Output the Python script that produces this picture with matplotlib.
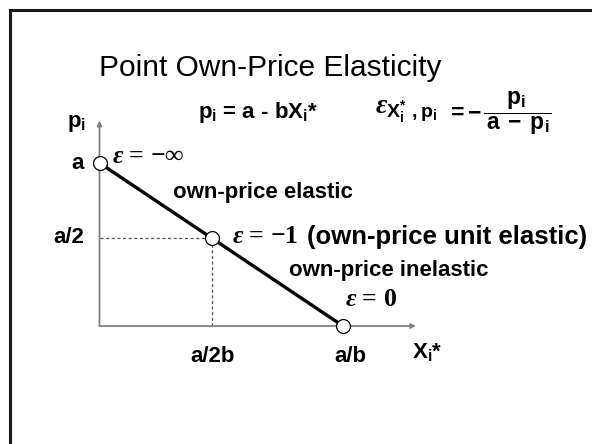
import matplotlib
matplotlib.use('Agg')
import matplotlib.pyplot as plt
from matplotlib.lines import Line2D

plt.rcParams['font.family'] = ['Liberation Sans', 'DejaVu Sans']
plt.rcParams['mathtext.fontset'] = 'custom'
plt.rcParams['mathtext.rm'] = 'Liberation Sans:bold'
plt.rcParams['mathtext.bf'] = 'Liberation Sans:bold'
plt.rcParams['mathtext.sf'] = 'Liberation Sans:bold'
plt.rcParams['mathtext.it'] = 'Liberation Serif:italic:bold'

# linear demand p = a - bX, in units of a (price) and a/b (quantity)
demand_x = [0.0, 0.46, 1.0]
demand_p = [1.0, 0.54, 0.0]
x_ticks = [0.46, 1.0]
x_labels = ['a/2b', 'a/b']
y_ticks = [1.0, 0.54]
y_labels = ['a', 'a/2']
eps_labels = [r'$\varepsilon$ = −∞', r'$\varepsilon$ = −1', r'$\varepsilon$ = 0']

W, H = 592, 444
fig = plt.figure(figsize=(W / 100, H / 100), dpi=100)


def fx(x):
    return x / W


def fy(y):
    return 1 - y / H


# slide frame
fig.add_artist(Line2D([fx(10), fx(10)], [fy(10), 0], color='#1a1a1a', lw=2.2))
fig.add_artist(Line2D([fx(10), 1], [fy(10), fy(10)], color='#1a1a1a', lw=2.2))

# plot area: x=0 at 99.5px, x=1 at 343px; p=0 at 326px, p=1 at 163px
ax = fig.add_axes([fx(99.5), fy(326), (343 - 99.5) / W, (326 - 163) / H])
ax.set_xlim(0, 1)
ax.set_ylim(0, 1)
ax.axis('off')

axis_col = '#808080'
ax.annotate('', xy=(0, 1.26), xytext=(0, 0), annotation_clip=False,
            arrowprops=dict(arrowstyle='-|>', color=axis_col, lw=1.3,
                            mutation_scale=7, shrinkA=0, shrinkB=0))
ax.annotate('', xy=(1.30, 0), xytext=(0, 0), annotation_clip=False,
            arrowprops=dict(arrowstyle='-|>', color=axis_col, lw=1.3,
                            mutation_scale=7, shrinkA=0, shrinkB=0))

# dotted guides to the unit-elastic point
ax.plot([0, demand_x[1]], [demand_p[1], demand_p[1]], ls=(0, (2.5, 2)),
        color='#555555', lw=0.9, clip_on=False)
ax.plot([demand_x[1], demand_x[1]], [0, demand_p[1]], ls=(0, (2.5, 2)),
        color='#555555', lw=0.9, clip_on=False)

ax.plot(demand_x, demand_p, color='black', lw=2.4, clip_on=False, zorder=3)
ax.plot(demand_x, demand_p, ls='none', marker='o', ms=10, mfc='white',
        mec='black', mew=0.9, clip_on=False, zorder=4)

bold = dict(fontweight='bold', fontsize=16)

# title
fig.text(fx(99), fy(76), 'Point Own-Price Elasticity', fontsize=21.5,
         va='baseline', ha='left')

# equations
fig.text(fx(198), fy(118), r'p$_\mathrm{i}$ = a - bX$_\mathrm{i}$*',
         va='baseline', ha='left', **bold)
fig.text(fx(375), fy(114),
         r'$\varepsilon_{\mathrm{X}_\mathrm{i}^{*}\;\,,\mathrm{p}_\mathrm{i}}$',
         va='baseline', ha='left', fontsize=20)
fig.text(fx(447), fy(113),
         r'$=-\,\dfrac{\mathrm{p}_\mathrm{i}}{\,\mathrm{a}\;-\;\mathrm{p}_\mathrm{i}}$',
         va='center', ha='left', fontsize=16.5)

# axis labels
fig.text(fx(67), fy(127), r'p$_\mathrm{i}$', va='baseline', ha='left', **bold)
fig.text(fx(412), fy(358), r'X$_\mathrm{i}$*', va='baseline', ha='left', **bold)
x_label_shift = [0.006, 0.03]
for xv, lab, dx in zip(x_ticks, x_labels, x_label_shift):
    ax.text(xv + dx, -(362 - 326) / 163, lab, ha='center', va='baseline', **bold)
for yv, lab in zip(y_ticks, y_labels):
    ax.text(-(99.5 - 84) / 243.5, yv, lab, ha='right', va='center', **bold)

# elasticity labels
eps_pos = [(112, 163), (232, 243), (345, 306)]
for (px, py), lab in zip(eps_pos, eps_labels):
    fig.text(fx(px), fy(py), lab, family='Liberation Serif', fontweight='bold',
             fontsize=18.5, va='baseline', ha='left')

fig.text(fx(307), fy(244), '(own-price unit elastic)', va='baseline',
         ha='left', fontweight='bold', fontsize=18.5)
fig.text(fx(173), fy(198), 'own-price elastic', va='baseline', ha='left', **bold)
fig.text(fx(289), fy(276), 'own-price inelastic', va='baseline', ha='left', **bold)

fig.savefig('out.png', dpi=100, facecolor='white')
